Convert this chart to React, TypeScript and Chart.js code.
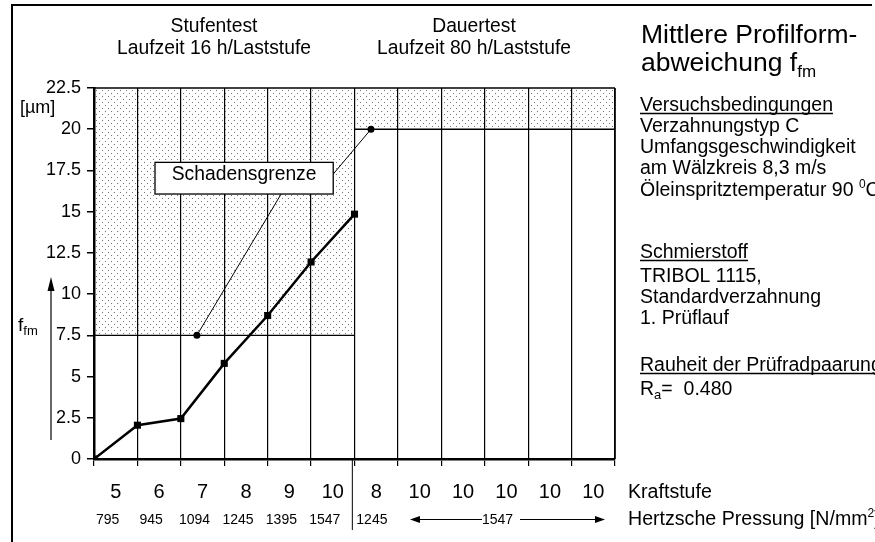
import React, { useEffect, useRef } from 'react';
import { Chart, registerables } from 'chart.js';

Chart.register(...registerables);

const FONT = '"Liberation Sans", Arial, Helvetica, sans-serif';

// ---- Data ----
const kraftstufen = ['5', '6', '7', '8', '9', '10', '8', '10', '10', '10', '10', '10'];
const pressungStufentest = ['795', '945', '1094', '1245', '1395', '1547'];
const pressungDauertestStart = '1245';
const pressungDauertest = '1547';
const laststufenX = [0, 1, 2, 3, 4, 5, 6];
const ffmWerte = [0, 2.05, 2.45, 5.8, 8.7, 11.95, 14.85];
const schadensgrenzeStufentest = 7.5;
const schadensgrenzeDauertest = 20;
const schadensgrenzeMarkerX = [2.37, 6.38];
const schadensgrenzeMarkerY = [7.5, 20];
const yMin = 0;
const yMax = 22.5;
const yStep = 2.5;
const xMin = 0;
const xMax = 12;
const stufentestEnde = 6;

type Seg = { t: string; size: number; dy?: number };

function rich(ctx: CanvasRenderingContext2D, x: number, y: number, segs: Seg[], align: 'left' | 'center' | 'right' = 'left', underline = false) {
  ctx.textBaseline = 'alphabetic';
  ctx.textAlign = 'left';
  ctx.fillStyle = '#000';
  let total = 0;
  for (const s of segs) {
    ctx.font = `${s.size}px ${FONT}`;
    total += ctx.measureText(s.t).width;
  }
  let cx = align === 'center' ? x - total / 2 : align === 'right' ? x - total : x;
  const start = cx;
  for (const s of segs) {
    ctx.font = `${s.size}px ${FONT}`;
    ctx.fillText(s.t, cx, y + (s.dy || 0));
    cx += ctx.measureText(s.t).width;
  }
  if (underline) {
    ctx.strokeStyle = '#000';
    ctx.lineWidth = 1.3;
    ctx.beginPath();
    ctx.moveTo(start, y + 2.5);
    ctx.lineTo(cx, y + 2.5);
    ctx.stroke();
  }
}

function line(ctx: CanvasRenderingContext2D, x1: number, y1: number, x2: number, y2: number, w: number) {
  ctx.strokeStyle = '#000';
  ctx.lineWidth = w;
  ctx.beginPath();
  ctx.moveTo(x1, y1);
  ctx.lineTo(x2, y2);
  ctx.stroke();
}

function arrowHead(ctx: CanvasRenderingContext2D, tipX: number, tipY: number, dir: 'left' | 'right' | 'up', len: number, half: number) {
  ctx.fillStyle = '#000';
  ctx.beginPath();
  ctx.moveTo(tipX, tipY);
  if (dir === 'left') { ctx.lineTo(tipX + len, tipY - half); ctx.lineTo(tipX + len, tipY + half); }
  else if (dir === 'right') { ctx.lineTo(tipX - len, tipY - half); ctx.lineTo(tipX - len, tipY + half); }
  else { ctx.lineTo(tipX - half, tipY + len); ctx.lineTo(tipX + half, tipY + len); }
  ctx.closePath();
  ctx.fill();
}

export default function App() {
  const ref = useRef<HTMLCanvasElement | null>(null);

  useEffect(() => {
    const canvas = ref.current;
    if (!canvas) return;

    const tile = document.createElement('canvas');
    tile.width = 6;
    tile.height = 6;
    const tctx = tile.getContext('2d')!;
    tctx.fillStyle = '#ffffff';
    tctx.fillRect(0, 0, 6, 6);
    tctx.fillStyle = '#747474';
    tctx.fillRect(0, 0, 1, 1);
    tctx.fillRect(3, 3, 1, 1);
    const pattern = canvas.getContext('2d')!.createPattern(tile, 'repeat')!;

    const overlay = {
      id: 'overlay',
      beforeDraw(chart: any) {
        const ctx: CanvasRenderingContext2D = chart.ctx;
        const xs = chart.scales.x;
        const ys = chart.scales.y;
        const x0 = xs.getPixelForValue(xMin);
        const x6 = xs.getPixelForValue(stufentestEnde);
        const x12 = xs.getPixelForValue(xMax);
        const yTop = ys.getPixelForValue(yMax);
        const y75 = ys.getPixelForValue(schadensgrenzeStufentest);
        const y20 = ys.getPixelForValue(schadensgrenzeDauertest);
        ctx.save();
        ctx.fillStyle = '#fff';
        ctx.fillRect(0, 0, chart.width, chart.height);
        ctx.fillStyle = pattern;
        ctx.fillRect(x0, yTop, x6 - x0, y75 - yTop);
        ctx.fillRect(x6, yTop, x12 - x6, y20 - yTop);
        // outer frame
        ctx.strokeStyle = '#000';
        ctx.lineWidth = 2;
        ctx.beginPath();
        ctx.moveTo(12, chart.height);
        ctx.lineTo(12, 5);
        ctx.lineTo(872, 5);
        ctx.stroke();
        ctx.restore();
      },
      beforeDatasetsDraw(chart: any) {
        const ctx: CanvasRenderingContext2D = chart.ctx;
        const xs = chart.scales.x;
        const ys = chart.scales.y;
        const x0 = xs.getPixelForValue(xMin);
        const x6 = xs.getPixelForValue(stufentestEnde);
        const x12 = xs.getPixelForValue(xMax);
        const yTop = ys.getPixelForValue(yMax);
        const y75 = ys.getPixelForValue(schadensgrenzeStufentest);
        const y20 = ys.getPixelForValue(schadensgrenzeDauertest);
        ctx.save();
        line(ctx, x0, y75, x6, y75, 1.4);
        line(ctx, x6, y20, x12, y20, 1.4);
        line(ctx, x0, yTop, x12, yTop, 1.6);
        line(ctx, x12, yTop, x12, ys.getPixelForValue(yMin), 1.6);
        ctx.restore();
      },
      afterDatasetsDraw(chart: any) {
        const ctx: CanvasRenderingContext2D = chart.ctx;
        const xs = chart.scales.x;
        const ys = chart.scales.y;
        const px = (v: number) => xs.getPixelForValue(v);
        const py = (v: number) => ys.getPixelForValue(v);
        ctx.save();

        // Schadensgrenze label box with leader lines
        const bL = px(1.405), bR = px(5.51), bT = py(17.99), bB = py(16.07);
        line(ctx, px(schadensgrenzeMarkerX[0]), py(schadensgrenzeMarkerY[0]), px(4.31), bB, 1);
        line(ctx, bR, py(17.28), px(schadensgrenzeMarkerX[1]), py(schadensgrenzeMarkerY[1]), 1);
        ctx.fillStyle = '#fff';
        ctx.fillRect(bL, bT, bR - bL, bB - bT);
        ctx.strokeStyle = '#000';
        ctx.lineWidth = 1.3;
        ctx.strokeRect(bL, bT, bR - bL, bB - bT);
        rich(ctx, (bL + bR) / 2, bT + 18, [{ t: 'Schadensgrenze', size: 19.3 }], 'center');

        // Headers
        rich(ctx, 214, 32, [{ t: 'Stufentest', size: 19.3 }], 'center');
        rich(ctx, 214, 54, [{ t: 'Laufzeit 16 h/Laststufe', size: 19.3 }], 'center');
        rich(ctx, 474, 32, [{ t: 'Dauertest', size: 19.3 }], 'center');
        rich(ctx, 474, 54, [{ t: 'Laufzeit 80 h/Laststufe', size: 19.3 }], 'center');

        // Y axis annotations
        rich(ctx, 20, 113, [{ t: '[µm]', size: 18 }]);
        rich(ctx, 18, 331, [{ t: 'f', size: 19 }, { t: 'fm', size: 13, dy: 4 }]);
        line(ctx, 51, 440, 51, 285, 1.2);
        arrowHead(ctx, 51, 277, 'up', 14, 3.5);

        // X axis labels
        const yK = 498;
        const yP = 524;
        kraftstufen.forEach((k, i) => rich(ctx, px(i + 0.5), yK, [{ t: k, size: 20 }], 'center'));
        pressungStufentest.forEach((p, i) => rich(ctx, px(i + 0.5) - 8, yP, [{ t: p, size: 14 }], 'center'));
        line(ctx, px(5.95), py(0), px(5.95), 530, 1);
        rich(ctx, px(5.95) + 4, yP, [{ t: pressungDauertestStart, size: 14 }]);
        rich(ctx, 497.5, yP, [{ t: pressungDauertest, size: 14 }], 'center');
        line(ctx, 418, 519.5, 482, 519.5, 1);
        arrowHead(ctx, 410, 519.5, 'left', 10, 3.5);
        line(ctx, 520, 519.5, 597, 519.5, 1);
        arrowHead(ctx, 605, 519.5, 'right', 10, 3.5);
        rich(ctx, 628, yK, [{ t: 'Kraftstufe', size: 19.6 }]);
        rich(ctx, 628, 525, [{ t: 'Hertzsche Pressung [N/mm', size: 19.6 }, { t: '2', size: 12, dy: -8 }, { t: ']', size: 19.6 }]);

        // Legend / info block
        const lx = 640;
        const fs = 19.5;
        rich(ctx, lx + 1, 43, [{ t: 'Mittlere Profilform-', size: 26.5 }]);
        rich(ctx, lx + 1, 71, [{ t: 'abweichung f', size: 26.5 }, { t: 'fm', size: 17, dy: 6 }]);
        rich(ctx, lx, 111, [{ t: 'Versuchsbedingungen', size: fs }], 'left', true);
        rich(ctx, lx, 132, [{ t: 'Verzahnungstyp C', size: fs }]);
        rich(ctx, lx, 153, [{ t: 'Umfangsgeschwindigkeit', size: fs }]);
        rich(ctx, lx, 174, [{ t: 'am Wälzkreis 8,3 m/s', size: fs }]);
        rich(ctx, lx, 196, [{ t: 'Öleinspritztemperatur 90 ', size: fs }, { t: '0', size: 12, dy: -8 }, { t: 'C', size: fs }]);
        rich(ctx, lx, 258, [{ t: 'Schmierstoff', size: fs }], 'left', true);
        rich(ctx, lx, 282, [{ t: 'TRIBOL 1115,', size: fs }]);
        rich(ctx, lx, 303, [{ t: 'Standardverzahnung', size: fs }]);
        rich(ctx, lx, 324, [{ t: '1. Prüflauf', size: fs }]);
        rich(ctx, lx, 371, [{ t: 'Rauheit der Prüfradpaarung', size: fs }], 'left', true);
        rich(ctx, lx, 395, [{ t: 'R', size: fs }, { t: 'a', size: 13, dy: 4 }, { t: '=  0.480', size: fs }]);

        ctx.restore();
      },
    };

    const chart = new Chart(canvas, {
      type: 'line',
      data: {
        datasets: [
          {
            data: laststufenX.map((x, i) => ({ x, y: ffmWerte[i] })),
            borderColor: '#000',
            borderWidth: 2.5,
            pointStyle: 'rect',
            pointRadius: 5,
            pointBackgroundColor: '#000',
            pointBorderColor: '#000',
            pointBorderWidth: 0,
            tension: 0,
            fill: false,
          },
          {
            data: schadensgrenzeMarkerX.map((x, i) => ({ x, y: schadensgrenzeMarkerY[i] })),
            showLine: false,
            pointStyle: 'circle',
            pointRadius: 3.5,
            pointBackgroundColor: '#000',
            pointBorderColor: '#000',
            pointBorderWidth: 0,
          },
        ],
      },
      options: {
        animation: false,
        responsive: false,
        maintainAspectRatio: false,
        layout: { padding: { left: 0, top: 88, right: 260, bottom: 0 } },
        plugins: { legend: { display: false }, tooltip: { enabled: false } },
        scales: {
          x: {
            type: 'linear',
            min: xMin,
            max: xMax,
            ticks: { stepSize: 1, display: false },
            grid: { color: '#000', lineWidth: 1.2, tickLength: 7, drawTicks: true, drawOnChartArea: true },
            border: { color: '#000', width: 2.5 },
            afterFit: (s: any) => { s.height = 83; },
          },
          y: {
            type: 'linear',
            min: yMin,
            max: yMax,
            ticks: { stepSize: yStep, color: '#000', font: { family: FONT, size: 18 }, padding: 6 },
            grid: { drawOnChartArea: false, color: '#000', lineWidth: 1.5, tickLength: 7 },
            border: { color: '#000', width: 2.5 },
            afterFit: (s: any) => { s.width = 94; },
          },
        },
      },
      plugins: [overlay],
    } as any);

    return () => chart.destroy();
  }, []);

  return (
    <div style={{ position: 'fixed', left: 0, top: 0, width: 875, height: 542, background: '#fff' }}>
      <canvas ref={ref} width={875} height={542} style={{ width: 875, height: 542, display: 'block' }} />
    </div>
  );
}
